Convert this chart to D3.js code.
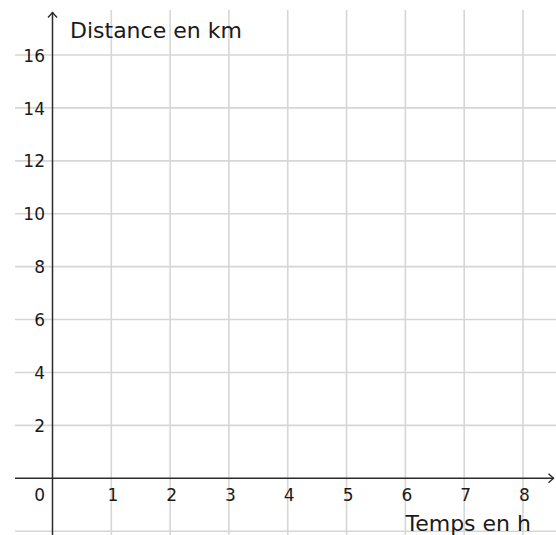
<!DOCTYPE html>
<html>
<head>
<meta charset="utf-8">
<script src="https://cdn.jsdelivr.net/npm/d3@7"></script>
<style>
  html, body { margin: 0; padding: 0; background: #fff; }
  svg { display: block; }
  text { font-family: "DejaVu Sans", sans-serif; fill: #1a1a1a; }
</style>
</head>
<body>
<svg id="chart" width="556" height="535"></svg>
<script>
const xTickLabels = [1, 2, 3, 4, 5, 6, 7, 8];
const yTickLabels = [2, 4, 6, 8, 10, 12, 14, 16];
const xGridValues = [1, 2, 3, 4, 5, 6, 7, 8];
const yGridValues = [-2, 2, 4, 6, 8, 10, 12, 14, 16];
const xAxisTitle = "Temps en h";
const yAxisTitle = "Distance en km";
const originLabel = "0";

(function () {
const W = 556, H = 535;
const svg = d3.select("#chart");

const x = d3.scaleLinear().domain([0, 8]).range([52.5, 523]);
const y = d3.scaleLinear().domain([0, 16]).range([478.3, 55]);

const gridLeft = 15, gridTop = 10;
const gridColor = "#d6d6d6";
const axisColor = "#2b2b2b";

// grid
const grid = svg.append("g");
grid.selectAll("line.v").data(xGridValues).join("line").attr("class", "v")
  .attr("x1", d => x(d)).attr("x2", d => x(d))
  .attr("y1", gridTop).attr("y2", H)
  .attr("stroke", gridColor).attr("stroke-width", 1.6);
grid.selectAll("line.h").data(yGridValues).join("line").attr("class", "h")
  .attr("x1", gridLeft).attr("x2", W)
  .attr("y1", d => y(d)).attr("y2", d => y(d))
  .attr("stroke", gridColor).attr("stroke-width", 1.6);

// axes lines
svg.append("line")
  .attr("x1", gridLeft).attr("x2", W - 2)
  .attr("y1", y(0)).attr("y2", y(0))
  .attr("stroke", axisColor).attr("stroke-width", 1.5);
svg.append("line")
  .attr("x1", x(0)).attr("x2", x(0))
  .attr("y1", H).attr("y2", 12)
  .attr("stroke", axisColor).attr("stroke-width", 1.5);

// arrows
svg.append("path")
  .attr("d", `M${x(0) - 4.5},${17.5} L${x(0)},${12.5} L${x(0) + 4.5},${17.5}`)
  .attr("fill", "none").attr("stroke", axisColor).attr("stroke-width", 1.4);
svg.append("path")
  .attr("d", `M${W - 7.5},${y(0) - 4.5} L${W - 2.5},${y(0)} L${W - 7.5},${y(0) + 4.5}`)
  .attr("fill", "none").attr("stroke", axisColor).attr("stroke-width", 1.4);

// tick labels via d3 axes (no domain/ticks lines)
const xAxis = d3.axisBottom(x).tickValues(xTickLabels).tickSize(0).tickPadding(0).tickFormat(d3.format("d"));
const gx = svg.append("g").attr("transform", `translate(1,${y(0) + 22.5})`).call(xAxis);
gx.select(".domain").remove();
gx.selectAll("text").attr("font-size", 17).attr("dy", 0).attr("font-family", "DejaVu Sans").attr("fill", "#1a1a1a");

const yAxis = d3.axisLeft(y).tickValues(yTickLabels).tickSize(0).tickPadding(0).tickFormat(d3.format("d"));
const gy = svg.append("g").attr("transform", `translate(45,0)`).call(yAxis);
gy.select(".domain").remove();
gy.selectAll("text").attr("font-size", 17).attr("dy", "0.36em").attr("font-family", "DejaVu Sans").attr("fill", "#1a1a1a");

svg.append("text")
  .attr("x", 45).attr("y", y(0) + 22.5)
  .attr("text-anchor", "end").attr("font-size", 17)
  .text(originLabel);

// titles
svg.append("text")
  .attr("x", 70).attr("y", 38)
  .attr("font-size", 22)
  .text(yAxisTitle);
svg.append("text")
  .attr("x", 531).attr("y", 531)
  .attr("text-anchor", "end")
  .attr("font-size", 22)
  .text(xAxisTitle);
})();
</script>
</body>
</html>
